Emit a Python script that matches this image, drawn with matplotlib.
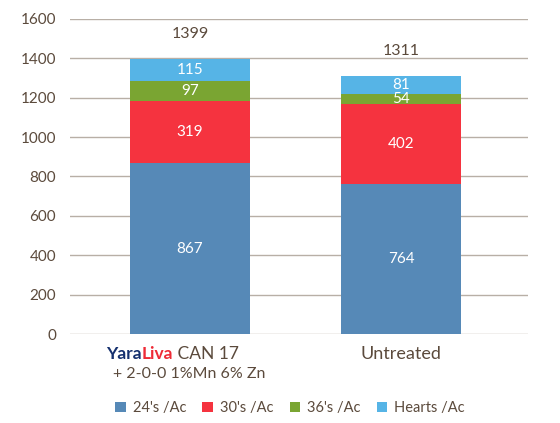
import numpy as np
import matplotlib.pyplot as plt

plt.rcParams['font.family'] = ['Lato', 'DejaVu Sans']

# values
groups = ['YaraLiva CAN 17', 'Untreated']
s24 = [867, 764]
s30 = [319, 402]
s36 = [97, 54]
hearts = [115, 81]
totals = [1399, 1311]
series_names = ["24's /Ac", "30's /Ac", "36's /Ac", "Hearts /Ac"]
y_ticks = [0, 200, 400, 600, 800, 1000, 1200, 1400, 1600]

colors = ['#5689b7', '#f5333f', '#7aa532', '#56b4e6']
txt_col = '#5b4a3c'

# in the source the top segment fills up to the printed total
top_seg = [t - a - b - c for t, a, b, c in zip(totals, s24, s30, s36)]

fig = plt.figure(figsize=(5.6, 4.23), dpi=100)
ax = fig.add_axes([0.125, 0.2104, 0.818, 0.7447])

x = np.arange(len(groups))
width = 0.569
bottom = np.zeros(len(groups))
handles = []
for vals, labs, col, name in zip([s24, s30, s36, top_seg], [s24, s30, s36, hearts],
                                 colors, series_names):
    bars = ax.bar(x, vals, width, bottom=bottom, color=col, label=name, zorder=3)
    handles.append(bars)
    for xi, b, v, lab in zip(x, bottom, vals, labs):
        ax.text(xi, b + v / 2, str(lab), ha='center', va='center',
                color='white', fontsize=11, zorder=4)
    bottom += np.array(vals)

for xi, top, tot in zip(x, bottom, totals):
    ax.annotate(str(tot), (xi, top), xytext=(0, 18), textcoords='offset points',
                ha='center', va='center', color=txt_col, fontsize=11.5)

ax.set_xlim(-0.569, 1.602)
ax.set_ylim(0, 1600)
ax.set_yticks(y_ticks)
ax.set_yticklabels([str(t) for t in y_ticks])
ax.tick_params(axis='y', length=0, pad=10, labelsize=11, labelcolor=txt_col)
ax.set_xticks([])
ax.grid(axis='y', color='#b8afa6', lw=1, zorder=0)
for s in ax.spines.values():
    s.set_visible(False)

# category labels under the bars
trans = ax.get_xaxis_transform()
t1 = ax.text(-0.40, -0.065, 'Yara', transform=trans, fontsize=12.5,
             fontweight='bold', color='#15306e', va='center', ha='left')
t2 = ax.annotate('Liva', xy=(1, 0), xycoords=t1, va='bottom', ha='left',
                 fontsize=12.5, fontweight='bold', color='#ee2b36')
t3 = ax.annotate(' CAN 17', xy=(1, 0), xycoords=t2, va='bottom', ha='left',
                 fontsize=12.5, color=txt_col)
ax.text(-0.005, -0.128, '+ 2-0-0 1%Mn 6% Zn', transform=trans, fontsize=11.5,
        color=txt_col, ha='center', va='center')
ax.text(1, -0.065, 'Untreated', transform=trans, fontsize=13,
        color=txt_col, ha='center', va='center')

fig.legend(handles=handles, labels=series_names, loc='center',
           bbox_to_anchor=(0.518, 0.035), ncol=4, frameon=False,
           handlelength=0.7, handleheight=0.7, handletextpad=0.5,
           columnspacing=1.1, fontsize=10.5, labelcolor=txt_col)

fig.savefig('out.png', dpi=100)
